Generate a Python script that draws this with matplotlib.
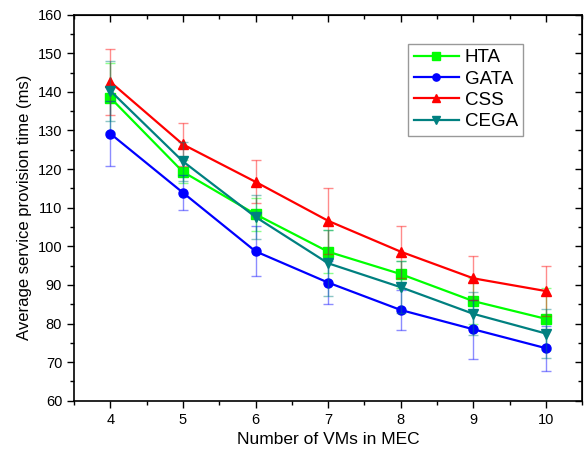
import matplotlib
matplotlib.use('Agg')
import matplotlib.pyplot as plt
from matplotlib.ticker import MultipleLocator

plt.rcParams['font.family'] = ['Liberation Sans', 'DejaVu Sans']

# Data
vms = [4, 5, 6, 7, 8, 9, 10]

hta = [138.5, 119.3, 108.3, 98.6, 92.8, 85.8, 81.2]
hta_err = [9.0, 3.0, 4.3, 5.6, 3.5, 6.0, 8.0]

gata = [129.2, 113.9, 98.7, 90.6, 83.5, 78.5, 73.6]
gata_err = [8.4, 4.5, 6.5, 5.5, 5.3, 7.6, 5.8]

css = [142.6, 126.4, 116.7, 106.6, 98.6, 91.7, 88.4]
css_err = [8.5, 5.6, 5.6, 8.6, 6.7, 5.7, 6.4]

cega = [140.3, 122.0, 107.6, 95.6, 89.4, 82.5, 77.4]
cega_err = [7.8, 5.0, 5.7, 8.6, 6.8, 5.6, 6.4]

series = [
    ('HTA', hta, hta_err, '#00ff00', 's'),
    ('GATA', gata, gata_err, '#0000ff', 'o'),
    ('CSS', css, css_err, '#ff0000', '^'),
    ('CEGA', cega, cega_err, '#008080', 'v'),
]

fig = plt.figure(figsize=(5.87, 4.59), dpi=100)
ax = fig.add_axes([0.126, 0.127, 0.866, 0.841])

for name, vals, errs, col, mk in series:
    # error bars drawn faint, line + markers on top
    ax.errorbar(vms, vals, yerr=errs, fmt='none', ecolor=col, alpha=0.45,
                elinewidth=1.0, capsize=3.5, capthick=1.0)
    ax.plot(vms, vals, color=col, marker=mk, markersize=6.5, linewidth=1.6,
            label=name)

ax.set_xlim(3.5, 10.5)
ax.set_ylim(60, 160)
ax.xaxis.set_major_locator(MultipleLocator(1))
ax.xaxis.set_minor_locator(MultipleLocator(0.5))
ax.yaxis.set_major_locator(MultipleLocator(10))
ax.yaxis.set_minor_locator(MultipleLocator(5))

ax.tick_params(which='both', direction='out', labelsize=10.5, width=1.0)
ax.tick_params(which='major', length=5)
ax.tick_params(which='minor', length=3)
for side in ax.spines.values():
    side.set_linewidth(1.2)

# mirrored ticks on top/right point inward
top = ax.secondary_xaxis('top')
top.xaxis.set_major_locator(MultipleLocator(1))
top.xaxis.set_minor_locator(MultipleLocator(0.5))
top.tick_params(which='both', direction='in', labeltop=False, width=1.0)
top.tick_params(which='major', length=5)
top.tick_params(which='minor', length=3)
right = ax.secondary_yaxis('right')
right.yaxis.set_major_locator(MultipleLocator(10))
right.yaxis.set_minor_locator(MultipleLocator(5))
right.tick_params(which='both', direction='in', labelright=False, width=1.0)
right.tick_params(which='major', length=5)
right.tick_params(which='minor', length=3)

ax.set_xlabel('Number of VMs in MEC', fontsize=12.5)
ax.set_ylabel('Average service provision time (ms)', fontsize=12)

leg = ax.legend(loc='upper right', bbox_to_anchor=(0.884, 0.925),
                borderaxespad=0, fontsize=13.5, frameon=True, fancybox=False,
                edgecolor='#808080', handlelength=2.4, borderpad=0.3,
                labelspacing=0.22, handletextpad=0.3, markerscale=0.8)
leg.get_frame().set_linewidth(1.0)

fig.savefig('out.png', dpi=100)
